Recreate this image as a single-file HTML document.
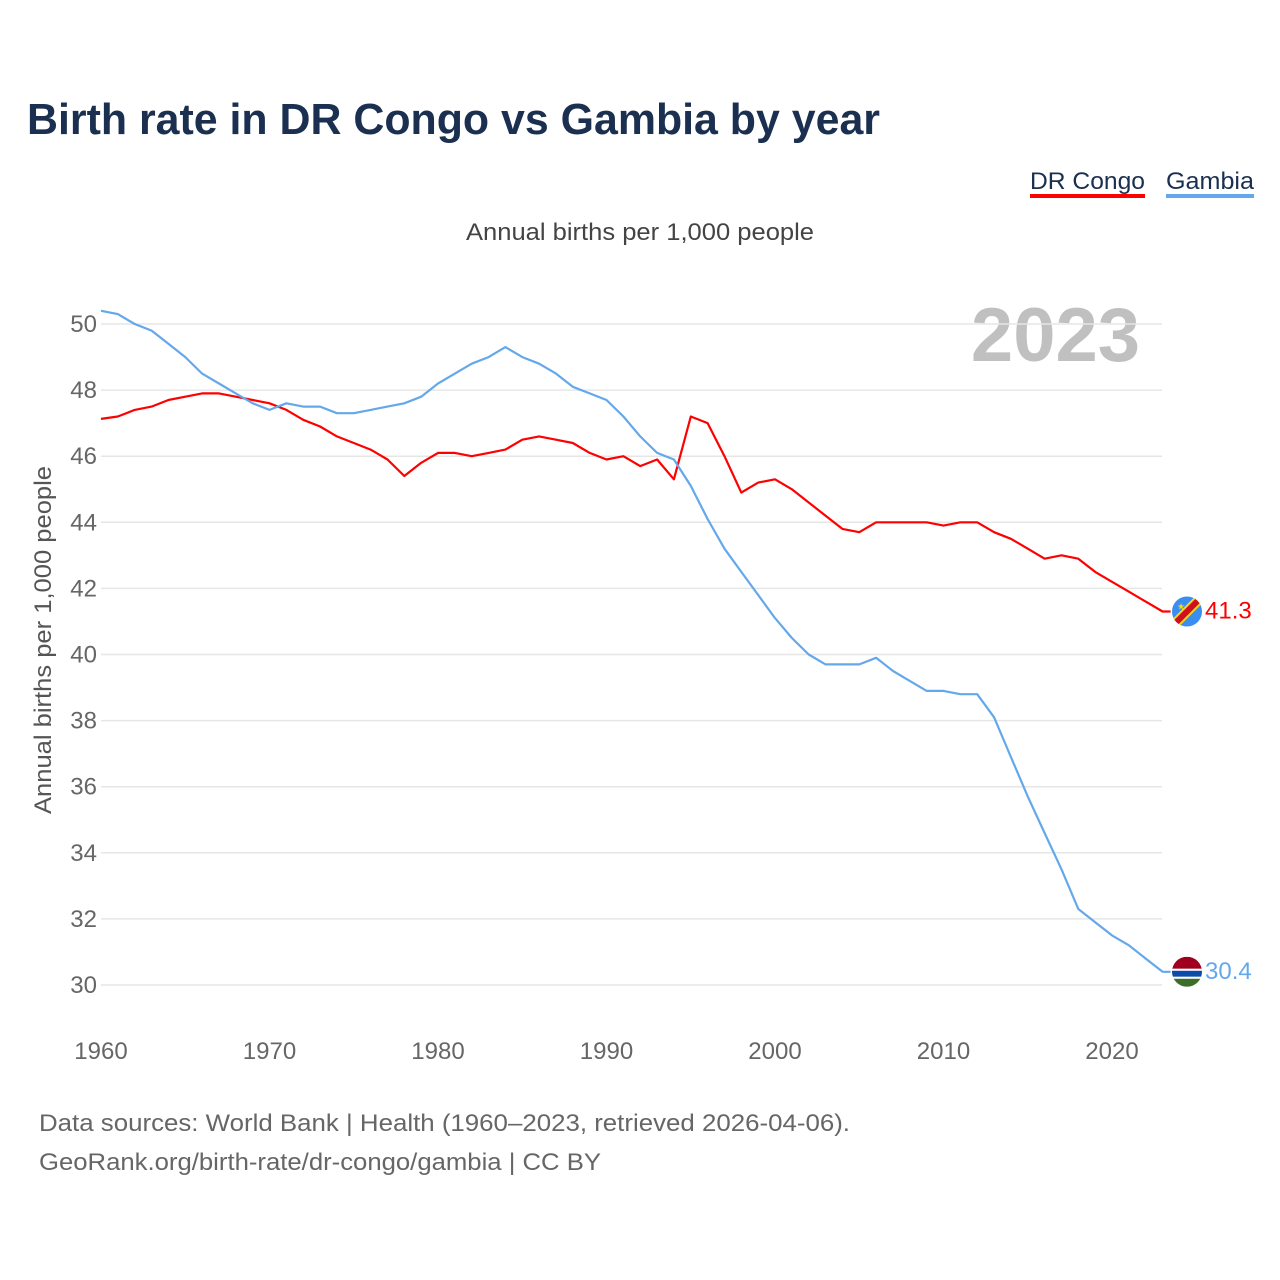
<!DOCTYPE html>
<html><head><meta charset="utf-8"><style>
html,body{margin:0;padding:0;background:#fff;}
svg{display:block;font-family:"Liberation Sans",sans-serif;}
</style></head><body>
<svg id="chart" width="1280" height="1280" viewBox="0 0 1280 1280" xmlns="http://www.w3.org/2000/svg">
<text x="27" y="134" font-size="44" font-weight="bold" fill="#1b3050" textLength="853" lengthAdjust="spacingAndGlyphs">Birth rate in DR Congo vs Gambia by year</text>
<g>
<text x="1030" y="189" font-size="24" fill="#1b3050" textLength="115" lengthAdjust="spacingAndGlyphs">DR Congo</text>
<rect x="1030" y="194" width="115" height="4" fill="#ff0000"/>
<text x="1166" y="189" font-size="24" fill="#1b3050" textLength="88" lengthAdjust="spacingAndGlyphs">Gambia</text>
<rect x="1166" y="194" width="88" height="4" fill="#64a8ec"/>
</g>
<text x="640" y="240" font-size="24" fill="#444" text-anchor="middle" textLength="348" lengthAdjust="spacingAndGlyphs">Annual births per 1,000 people</text>
<text x="1140" y="361" font-size="76" font-weight="bold" fill="#c0c0c0" text-anchor="end">2023</text>
<g id="grid"></g><g id="axes"></g><g id="series"></g>
<text transform="translate(51,640) rotate(-90)" font-size="24" fill="#555" text-anchor="middle" textLength="348" lengthAdjust="spacingAndGlyphs">Annual births per 1,000 people</text>
<g id="flags"></g>
<text x="39" y="1131" font-size="24" fill="#666" textLength="811" lengthAdjust="spacingAndGlyphs">Data sources: World Bank | Health (1960–2023, retrieved 2026-04-06).</text>
<text x="39" y="1170" font-size="24" fill="#666" textLength="562" lengthAdjust="spacingAndGlyphs">GeoRank.org/birth-rate/dr-congo/gambia | CC BY</text>
</svg>
<script>
const years = [];
for (let y = 1960; y <= 2023; y++) years.push(y);
const drCongo = [47.13,47.2,47.4,47.5,47.7,47.8,47.9,47.9,47.8,47.7,47.6,47.4,47.1,46.9,46.6,46.4,46.2,45.9,45.4,45.8,46.1,46.1,46.0,46.1,46.2,46.5,46.6,46.5,46.4,46.1,45.9,46.0,45.7,45.9,45.3,47.2,47.0,46.0,44.9,45.2,45.3,45.0,44.6,44.2,43.8,43.7,44.0,44.0,44.0,44.0,43.9,44.0,44.0,43.7,43.5,43.2,42.9,43.0,42.9,42.5,42.2,41.9,41.6,41.3];
const gambia = [50.4,50.3,50.0,49.8,49.4,49.0,48.5,48.2,47.9,47.6,47.4,47.6,47.5,47.5,47.3,47.3,47.4,47.5,47.6,47.8,48.2,48.5,48.8,49.0,49.3,49.0,48.8,48.5,48.1,47.9,47.7,47.2,46.6,46.1,45.9,45.1,44.1,43.2,42.5,41.8,41.1,40.5,40.0,39.7,39.7,39.7,39.9,39.5,39.2,38.9,38.9,38.8,38.8,38.1,36.9,35.7,34.6,33.5,32.3,31.9,31.5,31.2,30.8,30.4];
const yTicks = [30,32,34,36,38,40,42,44,46,48,50];
const xTicks = [1960,1970,1980,1990,2000,2010,2020];

const NS = "http://www.w3.org/2000/svg";
const xS = v => 101 + (v - 1960) * (1011 / 60);
const yS = v => 324 + (50 - v) * 33.05;
function mk(tag, attrs, parent) {
  const e = document.createElementNS(NS, tag);
  for (const k in attrs) e.setAttribute(k, attrs[k]);
  parent.appendChild(e); return e;
}
const grid = document.getElementById('grid'), axes = document.getElementById('axes');
const series = document.getElementById('series'), flags = document.getElementById('flags');
yTicks.forEach(t => {
  const l = mk('line', {x1: 101, x2: 1162, y1: yS(t), y2: yS(t), stroke: '#e6e6e6', 'stroke-width': 1.5}, grid);
  
  
  const tx = mk('text', {x: 97, y: yS(t) + 8, 'font-size': 24, fill: '#666', 'text-anchor': 'end'}, axes);
  
  
  tx.textContent = t;
});
xTicks.forEach(t => {
  const tx = mk('text', {x: xS(t), y: 1059, 'font-size': 24, fill: '#666', 'text-anchor': 'middle'}, axes);
  
  
  tx.textContent = t;
});
function drawLine(vals, color, name) {
  let d = vals.map((v, i) => (i ? 'L' : 'M') + xS(years[i]).toFixed(1) + ',' + yS(v).toFixed(1)).join('');
  d += 'L' + (xS(years[years.length - 1]) + 8).toFixed(1) + ',' + yS(vals[vals.length - 1]).toFixed(1);
  const p = mk('path', {d: d, fill: 'none', stroke: color, 'stroke-width': 2.2, 'stroke-linejoin': 'round'}, series);
  
  
  const last = vals[vals.length - 1];
  const t = mk('text', {x: 1205, y: yS(last) + 7, 'font-size': 24, fill: color}, series);
  
  
  t.textContent = last.toFixed(1);
}
drawLine(drCongo, '#ff0000', 'dr-congo');
drawLine(gambia, '#64a8ec', 'gambia');

const cy1 = yS(drCongo[drCongo.length - 1]), cy2 = yS(gambia[gambia.length - 1]);
const cx = 1187;
const defs = mk('defs', {}, flags);
const c1 = mk('clipPath', {id: 'cp1'}, defs); mk('circle', {cx: cx, cy: cy1, r: 15}, c1);
const c2 = mk('clipPath', {id: 'cp2'}, defs); mk('circle', {cx: cx, cy: cy2, r: 15}, c2);
const f1 = mk('g', {'clip-path': 'url(#cp1)'}, flags);


mk('rect', {x: cx - 15, y: cy1 - 15, width: 30, height: 30, fill: '#3a8ef0'}, f1);
mk('line', {x1: cx - 18, y1: cy1 + 18, x2: cx + 18, y2: cy1 - 18, stroke: '#f7d618', 'stroke-width': 10}, f1);
mk('line', {x1: cx - 18, y1: cy1 + 18, x2: cx + 18, y2: cy1 - 18, stroke: '#ce1021', 'stroke-width': 6}, f1);
mk('text', {x: cx - 10, y: cy1 - 2, 'font-size': 9, fill: '#f7d618'}, f1).textContent = '★';
const f2 = mk('g', {'clip-path': 'url(#cp2)'}, flags);


mk('rect', {x: cx - 15, y: cy2 - 15, width: 30, height: 12, fill: '#a0001e'}, f2);
mk('rect', {x: cx - 15, y: cy2 - 3, width: 30, height: 2, fill: '#fff'}, f2);
mk('rect', {x: cx - 15, y: cy2 - 1, width: 30, height: 6, fill: '#0c4ca8'}, f2);
mk('rect', {x: cx - 15, y: cy2 + 5, width: 30, height: 2, fill: '#fff'}, f2);
mk('rect', {x: cx - 15, y: cy2 + 7, width: 30, height: 8, fill: '#3e6d2a'}, f2);
</script>
</body></html>
